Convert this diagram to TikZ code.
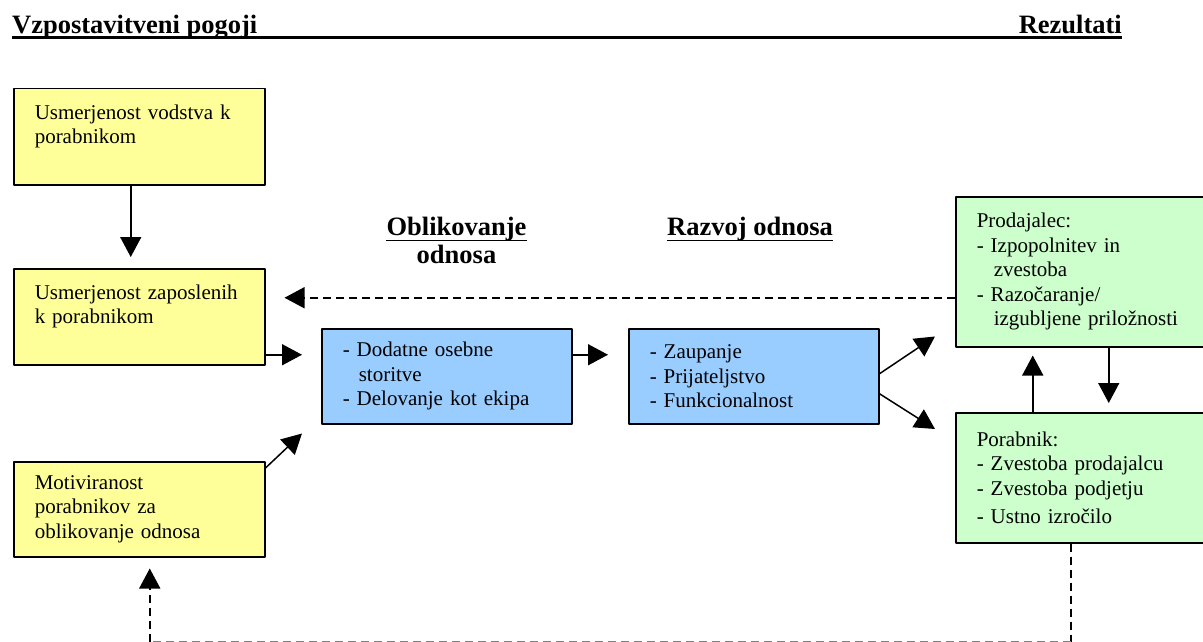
\documentclass[tikz,border=0pt]{standalone}
\usepackage{fontspec}
\setmainfont{Liberation Serif}
\usetikzlibrary{arrows.meta}
\definecolor{ybox}{HTML}{FFFF99}
\definecolor{bbox}{HTML}{99CCFF}
\definecolor{gbox}{HTML}{CCFFCC}
\tikzset{
  card/.style={draw, line width=1.5pt, anchor=north west, align=left, inner xsep=21pt, inner ysep=0pt},
  arr/.style={-{Triangle[length=20pt,width=21pt]}, line width=1.5pt},
  dasharr/.style={arr, dash pattern=on 8pt off 5pt},
  head/.style={inner sep=0pt, font=\fontsize{26.5}{28}\selectfont\bfseries}
}
\begin{document}
\begin{tikzpicture}[x=1pt, y=-1pt, font=\fontsize{21}{24.5}\selectfont, line join=round]
    \useasboundingbox (0,0) rectangle (1203,642);
    % headings
    \node[head, anchor=base west] (pogoji) at (12,34) {Vzpostavitveni pogoji};
    \node[head, anchor=base east] (rezult) at (1122,34) {Rezultati};
    \draw[line width=3pt] ([yshift=-4pt]pogoji.base west) -- ([yshift=-4pt]rezult.base east);
    \node[head, anchor=base] (oblik) at (456.5,235) {Oblikovanje};
    \node[head, anchor=base] (odnos) at (456.5,263) {odnosa};
    \node[head, anchor=base] (razvoj) at (750,235) {Razvoj odnosa};
    \foreach \h in {oblik,razvoj}
        \draw[line width=1.5pt] ([yshift=-5.5pt]\h.base west) -- ([yshift=-5.5pt]\h.base east);
    % boxes
    \node[card, fill=ybox, minimum width=251pt, minimum height=96pt, text width=209pt, text depth=50pt] (vodstvo) at (13,88)
        {Usmerjenost vodstva k\\porabnikom};
    \node[card, fill=ybox, minimum width=251pt, minimum height=96pt, text width=209pt, text depth=50pt] (zaposl) at (13,268)
        {Usmerjenost zaposlenih\\k porabnikom};
    \node[card, fill=ybox, minimum width=251pt, minimum height=95pt, text width=209pt] (motiv) at (13,461)
        {Motiviranost\\porabnikov za\\oblikovanje odnosa};
    \node[card, fill=bbox, minimum width=250pt, minimum height=95pt, text width=208pt] (oblikb) at (321,328)
        {- Dodatne osebne\\\hspace*{16pt}storitve\\- Delovanje kot ekipa};
    \node[card, fill=bbox, minimum width=250pt, minimum height=95pt, text width=208pt] (razvojb) at (628,328)
        {- Zaupanje\\- Prijateljstvo\\- Funkcionalnost};
    \node[card, fill=gbox, minimum width=250pt, minimum height=150pt, text width=208pt, inner xsep=20pt] (prodaj) at (955,196)
        {Prodajalec:\\- Izpopolnitev in\\\hspace*{17pt}zvestoba\\- Razočaranje/\\\hspace*{17pt}izgubljene priložnosti};
    \node[card, fill=gbox, minimum width=250pt, minimum height=130pt, text width=208pt, inner xsep=20pt] (porab) at (955,412)
        {Porabnik:\\- Zvestoba prodajalcu\\- Zvestoba podjetju\\[4pt]- Ustno izročilo};
    % connectors
    \draw[arr, shorten >=11pt] ([xshift=-8.5pt]vodstvo.south) -- ([xshift=-8.5pt]zaposl.north);
    \coordinate (zaposlout) at ([yshift=-38pt]zaposl.east);
    \draw[arr, shorten >=19pt] (zaposlout) -- (zaposlout -| oblikb.west);
    \draw[arr] ([yshift=-7pt]motiv.north east) -- ([shift={(-19pt,-9pt)}]oblikb.south west);
    \coordinate (oblikout) at ([yshift=21.5pt]oblikb.east);
    \draw[arr, shorten >=20pt] (oblikout) -- (oblikout -| razvojb.west);
    \draw[arr] ([yshift=2.5pt]razvojb.east) -- ([shift={(-20pt,11pt)}]prodaj.south west);
    \draw[arr] ([yshift=-17.5pt]razvojb.east) -- ([shift={(-20pt,-17pt)}]porab.north west);
    \draw[arr, shorten >=8pt] ([xshift=-48pt]porab.north) -- ([xshift=-48pt]prodaj.south);
    \draw[arr, shorten >=9pt] ([xshift=28pt]prodaj.south) -- ([xshift=28pt]porab.north);
    \coordinate (prodajout) at ([yshift=-26pt]prodaj.west);
    \draw[dasharr, shorten >=19pt] (prodajout) -- (prodajout -| zaposl.east);
    % feedback loop at the bottom
    \coordinate (porabfoot) at ([xshift=-10pt]porab.south);
    \coordinate (motivfoot) at ([xshift=10.5pt]motiv.south);
    \coordinate (loopr) at ([yshift=-98pt]porabfoot);
    \coordinate (loopl) at (loopr -| motivfoot);
    \draw[line width=1.5pt, dash pattern=on 8pt off 5pt] (porabfoot) -- (loopr);
    \draw[gray, line width=1pt, dash pattern=on 8pt off 5pt] (loopr) -- (loopl);
    \draw[dasharr, shorten >=11pt] (loopl) -- (motivfoot);
\end{tikzpicture}
\end{document}
